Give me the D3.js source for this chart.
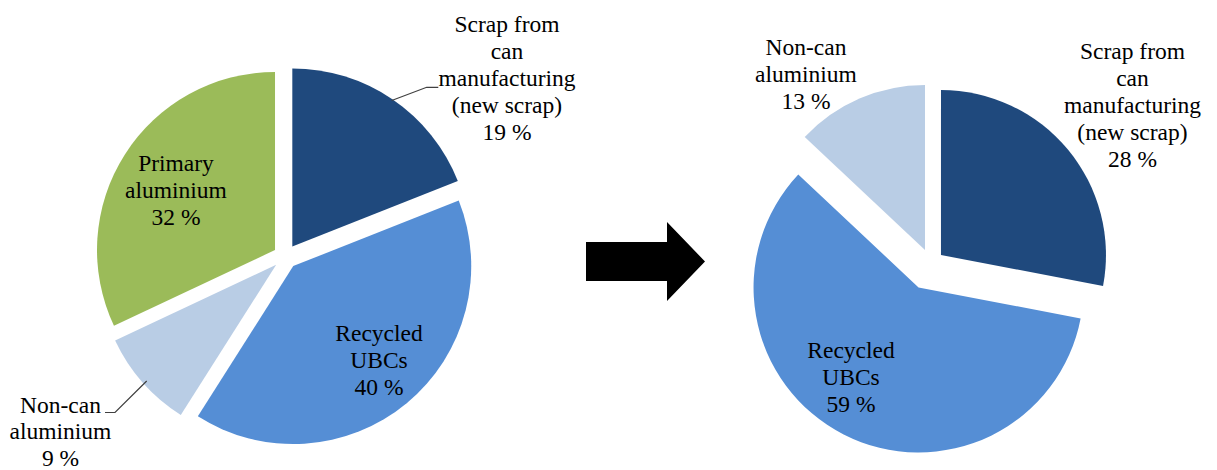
<!DOCTYPE html>
<html>
<head>
<meta charset="utf-8">
<script src="https://cdn.jsdelivr.net/npm/d3@7"></script>
<style>
  html, body { margin: 0; padding: 0; background: #fff; }
  svg { display: block; }
</style>
</head>
<body>
<svg id="chart" width="1217" height="470"></svg>
<script>
// ---- data ----
const categories = ["Scrap from can manufacturing (new scrap)", "Recycled UBCs", "Non-can aluminium", "Primary aluminium"];
const labelLines = [["Scrap from", "can", "manufacturing", "(new scrap)"], ["Recycled", "UBCs"], ["Non-can", "aluminium"], ["Primary", "aluminium"]];
const beforeValues = [19, 40, 9, 32];
const afterValues = [28, 59, 13];
const colors = ["#1F497D", "#558ED5", "#B9CDE5", "#9BBB59"];

// ---- layout ----
const svg = d3.select("#chart");
const FONT = "'Liberation Serif', Tinos, 'Times New Roman', 'DejaVu Serif', serif";

const pies = [
  { values: beforeValues, cx: 285.4, cy: 256.6, r: 178, explode: [12.3, 12.3, 12.3, 12.3],
    labels: [
      { x: 507, y: 31.7, lh: 27, leader: [[391.7, 100.5], [426.7, 87.3], [438.3, 87.3]] },
      { x: 379, y: 340.7, lh: 27 },
      { x: 60.5, y: 412.5, lh: 26.5, leader: [[146.7, 381], [115, 412.5], [105, 412.5]] },
      { x: 176, y: 170.7, lh: 27 }
    ] },
  { values: afterValues, cx: 930.8, cy: 263.4, r: 165, explode: [13.2, 27, 14.6],
    labels: [
      { x: 1132.5, y: 58.5, lh: 27 },
      { x: 851, y: 357.7, lh: 27 },
      { x: 806, y: 55, lh: 27 }
    ] }
];

const pieGen = d3.pie().sort(null).value(d => d).startAngle(0).endAngle(2 * Math.PI);

pies.forEach(p => {
  const arcGen = d3.arc().innerRadius(0).outerRadius(p.r);
  const g = svg.append("g").attr("transform", `translate(${p.cx},${p.cy})`);
  const arcs = pieGen(p.values);
  g.selectAll("path").data(arcs).join("path")
    .attr("d", arcGen)
    .attr("fill", (d, i) => colors[i])
    .attr("transform", (d, i) => {
      const mid = (d.startAngle + d.endAngle) / 2;
      const e = p.explode[i];
      return `translate(${Math.sin(mid) * e},${-Math.cos(mid) * e})`;
    });

  p.labels.forEach((lab, i) => {
    if (lab.leader) {
      svg.append("path")
        .attr("d", d3.line()(lab.leader))
        .attr("fill", "none")
        .attr("stroke", "#404040")
        .attr("stroke-width", 1.2);
    }
    const lines = labelLines[i].concat([p.values[i] + " %"]);
    const t = svg.append("text")
      .attr("text-anchor", "middle")
      .attr("font-family", FONT)
      .attr("font-size", "23.5px")
      .attr("fill", "#000");
    lines.forEach((ln, k) => {
      t.append("tspan").attr("x", lab.x).attr("y", lab.y + k * lab.lh).text(ln);
    });
  });
});

// ---- arrow between the pies ----
const arrow = [[586, 242], [667, 242], [667, 222], [705, 261.5], [667, 301], [667, 281], [586, 281]];
svg.append("path")
  .attr("d", d3.line()(arrow) + "Z")
  .attr("fill", "#000");
</script>
</body>
</html>
